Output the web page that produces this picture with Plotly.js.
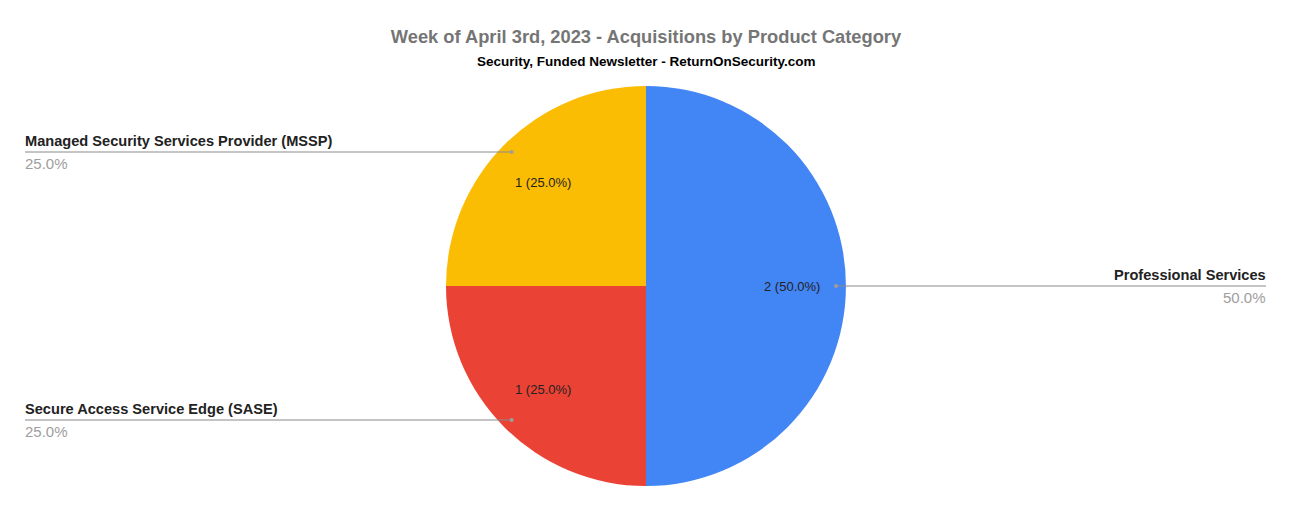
<!DOCTYPE html>
<html>
<head>
<meta charset="utf-8">
<script src="https://cdn.plot.ly/plotly-3.0.1.min.js"></script>
<style>html,body{margin:0;padding:0;background:#fff;}#chart{width:1292px;height:512px;}</style>
</head>
<body>
<div id="chart"></div>
<script>
const categories = ["Professional Services", "Secure Access Service Edge (SASE)", "Managed Security Services Provider (MSSP)"];
const counts = [2, 1, 1];
const colors = ["#4285F4", "#EA4335", "#FBBC04"];
const titleText = "Week of April 3rd, 2023 - Acquisitions by Product Category";
const subtitleText = "Security, Funded Newsletter - ReturnOnSecurity.com";

const W = 1292, H = 512;
const cx = 646, cy = 286, R = 200;
const FONT = "Liberation Sans, Arial, sans-serif";
const px = x => x / W;
const py = y => 1 - y / H;

const total = counts.reduce((a, b) => a + b, 0);
const annotations = [];
const shapes = [];
let cum = 0;
counts.forEach((v, i) => {
  const th = 2 * Math.PI * (cum + v / 2) / total;
  cum += v;
  const pct = (100 * v / total).toFixed(1) + "%";
  const s = Math.sin(th), c = Math.cos(th);
  // inside label
  const ri = 0.73 * R;
  annotations.push({x: px(cx + ri * s), y: py(cy - ri * c), xref: "paper", yref: "paper",
    text: v + " (" + pct + ")", showarrow: false, font: {family: FONT, size: 13, color: "#222"},
    xanchor: "center", yanchor: "middle"});
  // leader line
  const rd = 0.95 * R;
  const dx = cx + rd * s, dy = Math.round(cy - rd * c);
  const right = s > 0.001;
  const endX = right ? 1266 : 25;
  const txtX = right ? endX + 2 : endX - 2;
  shapes.push({type: "line", xref: "paper", yref: "paper", x0: px(dx), y0: py(dy), x1: px(endX), y1: py(dy),
    line: {color: "#8a8a8a", width: 1}});
  shapes.push({type: "circle", xref: "paper", yref: "paper", x0: px(dx - 2), x1: px(dx + 2), y0: py(dy - 2), y1: py(dy + 2),
    fillcolor: "#9e9e9e", line: {width: 0}});
  annotations.push({x: px(txtX), y: py(dy - 1), xref: "paper", yref: "paper", text: "<b>" + categories[i] + "</b>", showarrow: false,
    font: {family: FONT, size: 14.6, color: "#222"}, xanchor: right ? "right" : "left", yanchor: "bottom"});
  annotations.push({x: px(txtX), y: py(dy + 1), xref: "paper", yref: "paper", text: pct, showarrow: false,
    font: {family: FONT, size: 15, color: "#9e9e9e"}, xanchor: right ? "right" : "left", yanchor: "top"});
});

annotations.push({x: 0.5, y: py(61), xref: "paper", yref: "paper", text: "<b>" + subtitleText + "</b>", showarrow: false,
  font: {family: FONT, size: 13.5, color: "#000"}, xanchor: "center", yanchor: "middle"});

const trace = {
  type: "pie",
  labels: categories,
  values: counts,
  marker: {colors: colors, line: {width: 0}},
  sort: false,
  direction: "clockwise",
  rotation: 0,
  textinfo: "none",
  hoverinfo: "label+value+percent",
  showlegend: false,
  domain: {x: [(cx - R) / W, (cx + R) / W], y: [(H - cy - R) / H, (H - cy + R) / H]}
};

const layout = {
  width: W, height: H,
  margin: {l: 0, r: 0, t: 0, b: 0},
  paper_bgcolor: "#fff",
  title: {text: "<b>" + titleText + "</b>", x: 0.5, xanchor: "center", y: 1 - 37 / H, yref: "container", yanchor: "middle",
    font: {family: FONT, size: 18.3, color: "#757575"}},
  annotations: annotations,
  shapes: shapes,
  showlegend: false
};

Plotly.newPlot("chart", [trace], layout, {displayModeBar: false, staticPlot: true});
</script>
</body>
</html>
